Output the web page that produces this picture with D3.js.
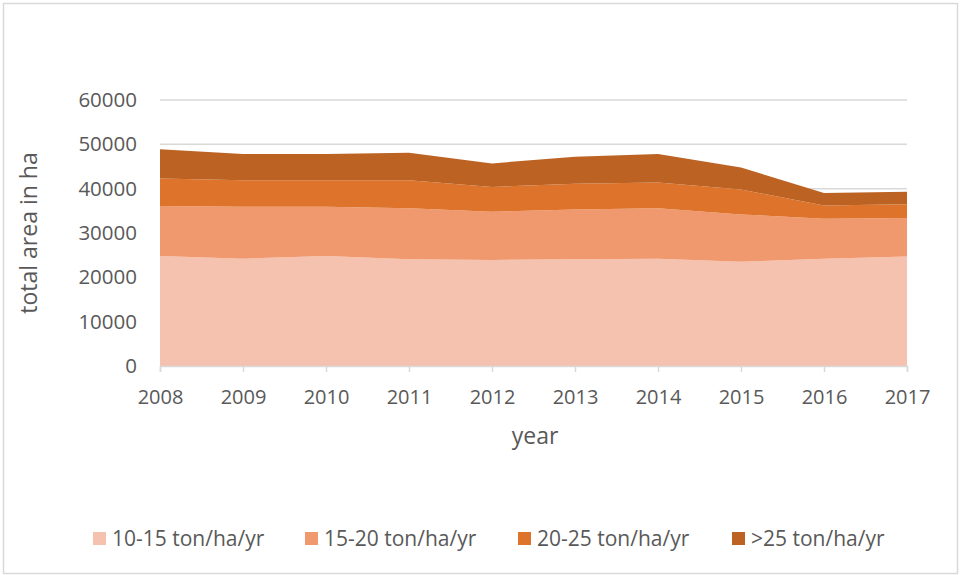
<!DOCTYPE html>
<html>
<head>
<meta charset="utf-8">
<script src="https://cdn.jsdelivr.net/npm/d3@7"></script>
<style>
  html, body { margin: 0; padding: 0; background: #fff; }
  svg { display: block; font-family: "Open Sans", "Noto Sans", sans-serif; }
</style>
</head>
<body>
<svg id="chart" width="961" height="575"></svg>
<script>
// Area by erosion class, hectares per year
const years = ["2008", "2009", "2010", "2011", "2012", "2013", "2014", "2015", "2016", "2017"];
const seriesNames = ["10-15 ton/ha/yr", "15-20 ton/ha/yr", "20-25 ton/ha/yr", ">25 ton/ha/yr"];
const s10to15 = [24800, 24200, 24800, 24100, 23900, 24100, 24200, 23500, 24200, 24700];
const s15to20 = [11300, 11700, 11100, 11500, 10900, 11200, 11400, 10700, 9000, 8700];
const s20to25 = [6200, 6000, 6000, 6300, 5600, 5800, 5800, 5600, 3000, 3100];
const sOver25 = [6600, 5900, 5900, 6200, 5300, 6100, 6400, 5000, 2800, 2800];
const yTicks = [0, 10000, 20000, 30000, 40000, 50000, 60000];
const colors = ["#F4C2AE", "#F0996F", "#DE742C", "#BC6223"];

const seriesValues = [s10to15, s15to20, s20to25, sOver25];
const rows = years.map((yr, i) => {
  const r = { year: yr };
  seriesNames.forEach((n, k) => { r[n] = seriesValues[k][i]; });
  return r;
});

const svg = d3.select("#chart");
const W = 961, H = 575;
const textColor = "#595959";

// chart frame
svg.append("rect")
  .attr("x", 3.5).attr("y", 3.5)
  .attr("width", W - 7).attr("height", H - 5)
  .attr("fill", "#fff")
  .attr("stroke", "#D9D9D9").attr("stroke-width", 1.5);

const plotL = 160, plotR = 907, plotT = 100, plotB = 366;

const x = d3.scalePoint().domain(years).range([plotL, plotR]);
const y = d3.scaleLinear().domain([0, 60000]).range([plotB, plotT]);

// horizontal gridlines
svg.append("g").selectAll("line")
  .data(yTicks.filter(t => t > 0))
  .join("line")
  .attr("x1", plotL).attr("x2", plotR)
  .attr("y1", d => y(d)).attr("y2", d => y(d))
  .attr("stroke", "#D9D9D9").attr("stroke-width", 1.5);

// stacked areas
const stack = d3.stack().keys(seriesNames);
const layers = stack(rows);
const area = d3.area()
  .x(d => x(d.data.year))
  .y0(d => y(d[0]))
  .y1(d => y(d[1]));

svg.append("g").selectAll("path")
  .data(layers)
  .join("path")
  .attr("d", area)
  .attr("fill", (d, i) => colors[i]);

// x axis
const xAxis = d3.axisBottom(x).tickSize(6).tickPadding(18);
const gx = svg.append("g")
  .attr("transform", `translate(0,${plotB})`)
  .call(xAxis);
gx.select(".domain").attr("stroke", "#D9D9D9").attr("stroke-width", 1.5);
gx.selectAll(".tick line").attr("stroke", "#D9D9D9").attr("stroke-width", 1.5);
gx.selectAll(".tick text")
  .attr("fill", textColor)
  .style("font-size", "20px")
  .style("font-family", "'Open Sans', sans-serif");

// y axis labels
const yAxis = d3.axisLeft(y).tickValues(yTicks).tickSize(0).tickPadding(23).tickFormat(d3.format("d"));
const gy = svg.append("g")
  .attr("transform", `translate(${plotL},0)`)
  .call(yAxis);
gy.select(".domain").remove();
gy.selectAll(".tick text")
  .attr("fill", textColor)
  .style("font-size", "20.5px")
  .style("font-family", "'Open Sans', sans-serif");

// axis titles
svg.append("text")
  .attr("x", 535).attr("y", 444)
  .attr("text-anchor", "middle")
  .attr("fill", textColor)
  .style("font-size", "23px")
  .text("year");

svg.append("text")
  .attr("transform", `translate(37,${(plotT + plotB) / 2}) rotate(-90)`)
  .attr("text-anchor", "middle")
  .attr("fill", textColor)
  .style("font-size", "23px")
  .text("total area in ha");

// legend
const legendX = [93, 305, 518, 732];
const lg = svg.append("g").selectAll("g")
  .data(seriesNames)
  .join("g")
  .attr("transform", (d, i) => `translate(${legendX[i]},532)`);
lg.append("rect")
  .attr("width", 13).attr("height", 13)
  .attr("fill", (d, i) => colors[i]);
lg.append("text")
  .attr("x", 19).attr("y", 14)
  .attr("fill", textColor)
  .style("font-size", "21px")
  .text(d => d);
</script>
</body>
</html>
